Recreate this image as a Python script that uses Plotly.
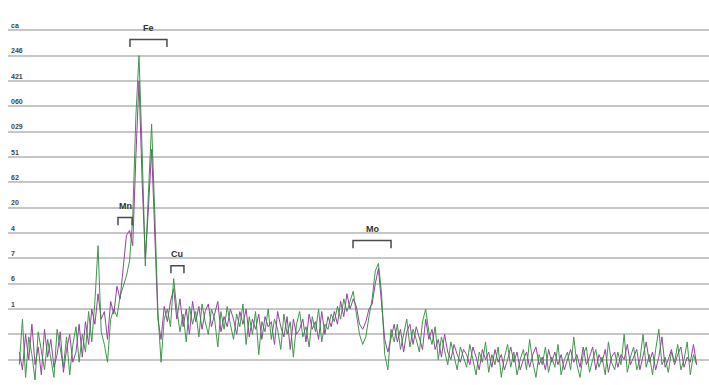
import numpy as np
import plotly.graph_objects as go

# Energy calibration of the channels (keV)
E_START = 0.7
E_STEP = 0.15

# Counts of the two measured spectra (scaled to the grid levels)
spectrum_a = [
    0.8, 2.6, 0.3, 1.9, 1.2, 0.2, 2.1, 1.4, 0.6, 1.8,
    1.0, 0.3, 2.2, 1.5, 0.7, 1.9, 0.4, 1.6, 2.3, 0.9,
    2.0, 1.3, 2.9, 1.7, 3.3, 5.5, 2.1, 1.6, 0.9, 2.6,
    3.0, 2.7, 3.5, 3.9, 4.3, 4.9, 6.6, 10.6, 13.0, 9.2,
    4.7, 7.6, 10.3, 6.8, 2.9, 0.9, 2.6, 3.0, 2.3, 4.2,
    3.0, 2.1, 2.8, 1.7, 3.1, 2.4, 2.9, 1.9, 3.2, 2.5,
    2.0, 3.0, 2.6, 1.5, 2.9, 2.2, 3.1, 2.4, 1.8, 2.8,
    2.3, 3.2, 1.6, 2.7, 2.0, 2.9, 1.2, 2.5, 2.1, 3.0,
    1.8, 2.6, 2.2, 1.4, 2.8, 2.0, 2.5, 1.1, 2.4, 2.9,
    1.9, 2.3, 1.5, 2.7, 2.1, 3.0, 1.7, 2.4, 2.2, 2.8,
    2.5, 3.1, 2.6, 3.4, 2.9, 3.3, 3.7, 2.8, 2.0, 1.6,
    1.9, 2.7, 3.4, 4.5, 4.8, 3.6, 1.2, 0.6, 2.2, 1.7,
    2.4, 1.4, 2.0, 2.6, 1.5, 2.2, 1.8, 1.3, 2.5, 3.0,
    2.1, 1.6, 2.3, 1.0, 1.9, 1.4, 0.8, 1.7, 1.2, 0.6,
    1.5, 1.1, 0.7, 1.6, 1.0, 0.4, 1.3, 0.9, 1.7, 0.5,
    1.2, 0.8, 1.5, 0.3, 1.1, 1.6, 0.7, 1.3, 0.4, 1.0,
    1.4, 0.6, 1.8, 0.9, 0.3, 1.2, 0.8, 1.5, 0.5, 1.1,
    0.7, 1.6, 0.4, 1.0, 1.3, 0.6, 1.9, 0.8, 0.3, 1.2,
    1.5, 0.5, 1.0, 1.4, 0.7, 1.1, 0.4, 1.7, 0.9, 0.6,
    1.3, 0.8, 2.0, 0.5, 1.1, 1.5, 0.6, 1.0, 2.0, 0.7,
    1.2, 0.4, 1.4, 2.2, 0.8, 1.1, 0.5, 1.3, 0.9, 1.6,
    0.6, 1.0, 1.7, 0.4, 1.2, 0.8,
]

spectrum_b = [
    1.3, 0.6, 2.0, 1.0, 2.4, 0.8, 1.5, 0.4, 2.2, 1.1,
    1.8, 0.7, 1.2, 2.1, 0.5, 1.4, 2.0, 0.9, 1.3, 2.4,
    1.1, 2.5, 1.6, 3.0, 2.4, 3.6, 2.6, 2.9, 1.8, 3.3,
    2.8, 3.9, 3.4, 4.6, 5.9, 6.1, 5.5, 9.0, 12.0, 8.0,
    5.0, 7.0, 9.3, 6.0, 2.6, 1.8, 3.1, 2.5, 3.3, 3.8,
    2.6, 3.4, 2.3, 3.0, 2.0, 3.3, 2.5, 3.1, 2.2, 2.9,
    3.2, 2.3, 2.8, 3.3, 2.1, 2.7, 2.3, 3.0, 2.6, 2.0,
    2.9, 2.4, 3.0, 1.9, 2.6, 2.2, 2.8, 1.8, 2.7, 2.3,
    2.5, 1.6, 2.9, 2.3, 1.9, 2.7, 1.4, 2.6, 2.0, 2.2,
    2.6, 1.7, 2.8, 2.2, 2.5, 1.8, 2.9, 2.0, 2.7, 2.3,
    2.9, 2.4, 3.3, 2.7, 3.6, 3.0, 3.4, 3.1, 2.4, 2.2,
    2.5, 3.0, 3.2, 4.0, 4.6, 3.2, 1.8, 1.3, 1.9, 2.4,
    1.7, 2.2, 1.3, 2.1, 2.4, 1.6, 2.3, 1.9, 1.4, 2.6,
    1.8, 2.2, 1.4, 1.8, 1.1, 2.0, 1.3, 1.0, 1.6, 1.2,
    0.9, 1.4, 1.2, 0.8, 1.5, 1.1, 0.6, 1.4, 1.0, 1.3,
    0.7, 1.4, 0.9, 1.2, 0.6, 1.0, 1.5, 0.9, 1.3, 0.6,
    1.0, 1.3, 0.7, 1.2, 1.5, 0.8, 1.1, 0.6, 1.4, 0.9,
    1.3, 0.8, 1.2, 0.6, 1.0, 1.4, 0.9, 1.2, 0.7, 1.5,
    0.8, 1.1, 1.5, 0.6, 1.2, 0.9, 1.4, 0.5, 1.1, 1.3,
    0.7, 1.2, 1.0, 1.6, 0.8, 1.1, 1.4, 0.6, 1.2, 1.7,
    0.9, 1.3, 0.6, 1.1, 1.9, 0.7, 1.0, 1.4, 0.8, 1.2,
    1.5, 0.7, 1.1, 0.9, 1.6, 0.8,
]

# Horizontal grid levels and their labels
grid_levels = list(range(1, 16))
grid_labels = ["", "", "1", "6", "7", "4", "20", "62", "51",
               "029", "060", "421", "246", "ca", ""]

# Element windows: name, low / high energy (keV), bracket level
elements = ["Mn", "Fe", "Cu", "Mo"]
window_lo = [5.40, 5.97, 7.92, 16.59]
window_hi = [6.07, 7.73, 8.54, 18.40]
window_level = [6.61, 13.64, 4.71, 5.70]

energy = np.round(E_START + E_STEP * np.arange(len(spectrum_a)), 3)

fig = go.Figure()
fig.add_trace(go.Scatter(x=energy, y=spectrum_b, mode="lines",
                         line=dict(color="#93449b", width=1),
                         showlegend=False, hoverinfo="skip"))
fig.add_trace(go.Scatter(x=energy, y=spectrum_a, mode="lines",
                         line=dict(color="#2f8a3c", width=1),
                         opacity=0.9, showlegend=False, hoverinfo="skip"))

# Brackets marking each element's energy window, with its symbol above
tick = 0.3
for name, lo, hi, lvl in zip(elements, window_lo, window_hi, window_level):
    fig.add_shape(type="path",
                  path=f"M {lo},{lvl - tick} L {lo},{lvl} L {hi},{lvl} L {hi},{lvl - tick}",
                  xref="x", yref="y",
                  line=dict(color="#4a4a4a", width=1.5))
    fig.add_annotation(x=(lo + hi) / 2, y=lvl + 0.18, text=f"<b>{name}</b>",
                       showarrow=False, yanchor="bottom",
                       font=dict(family="Liberation Sans, Arial", size=9, color="#333333"))

fig.update_xaxes(range=[0.162, 33.54], visible=False, showgrid=False, zeroline=False)
fig.update_yaxes(range=[0, 15], tickmode="array", tickvals=grid_levels,
                 ticktext=[f"<b>{t}</b>" for t in grid_labels],
                 ticklabelposition="inside top", ticks="",
                 showgrid=True, gridcolor="#c6c6c6", gridwidth=2,
                 zeroline=False, showline=False,
                 tickfont=dict(family="Liberation Sans, Arial", size=7, color="#444444"))

fig.update_layout(width=709, height=385,
                  margin=dict(l=8, r=0, t=5, b=0),
                  paper_bgcolor="white", plot_bgcolor="white")

fig.write_html("out.html")
